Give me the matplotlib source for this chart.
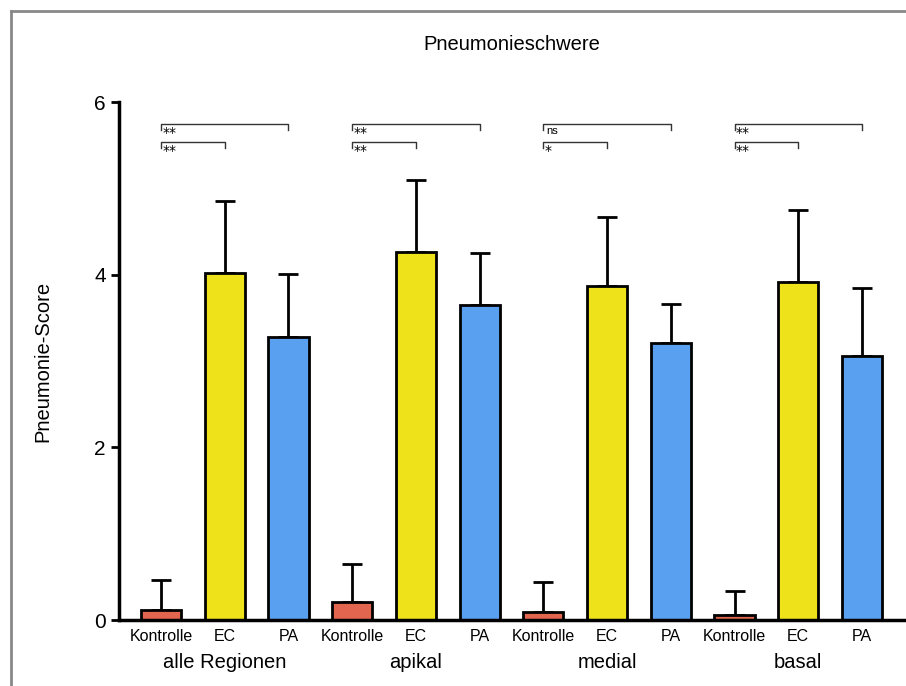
import matplotlib.pyplot as plt
from matplotlib.lines import Line2D

plt.rcParams['font.family'] = ['Liberation Sans', 'DejaVu Sans']

# data
regions = ["alle Regionen", "apikal", "medial", "basal"]
groups = ["Kontrolle", "EC", "PA"]
means = [
    [0.12, 4.02, 3.28],
    [0.21, 4.26, 3.65],
    [0.09, 3.87, 3.21],
    [0.06, 3.91, 3.06],
]
errs = [
    [0.34, 0.83, 0.73],
    [0.44, 0.84, 0.60],
    [0.35, 0.80, 0.45],
    [0.28, 0.84, 0.79],
]
# significance: (vs PA, vs EC) for each region
sig_top = ["**", "**", "ns", "**"]
sig_low = ["**", "**", "*", "**"]
colors = ["#E2664F", "#EEE21A", "#5AA0F0"]

fig = plt.figure(figsize=(9.06, 6.86), dpi=100)
ax = fig.add_axes([0.1313, 0.0962, 0.8687, 0.7551])

pos = 0
for r, region in enumerate(regions):
    xs = [pos + i for i in range(3)]
    ax.bar(xs, means[r], width=0.63, color=colors, edgecolor="black",
           linewidth=2, zorder=2)
    ax.errorbar(xs, means[r], yerr=[[0, 0, 0], errs[r]], fmt="none",
                ecolor="black", elinewidth=2, capsize=7, capthick=2, zorder=1)
    for i, g in enumerate(groups):
        ax.text(xs[i], -0.1, g, ha="center", va="top", fontsize=11.5)
    ax.text(xs[1], -0.38, region, ha="center", va="top", fontsize=14.5)

    # brackets
    x0 = xs[0]
    for x1, yb, s in [(xs[2], 5.745, sig_top[r]), (xs[1], 5.537, sig_low[r])]:
        ax.plot([x0, x0, x1, x1], [yb - 0.07, yb, yb, yb - 0.07],
                color="#333333", lw=1, clip_on=False)
        if "*" in s:
            ax.text(x0 + 0.02, yb - 0.025, s, ha="left", va="top",
                    fontsize=10, family="DejaVu Sans")
        else:
            ax.text(x0 + 0.04, yb - 0.02, s, ha="left", va="top", fontsize=8)
    pos += 3

ax.set_xlim(-0.66, 11.69)
ax.set_ylim(0, 6)
ax.set_yticks([0, 2, 4, 6])
ax.set_xticks([])
ax.tick_params(axis="y", labelsize=15, width=2, length=6)
for s in ["top", "right"]:
    ax.spines[s].set_visible(False)
ax.spines["left"].set_linewidth(2.5)
ax.spines["bottom"].set_linewidth(2.5)
ax.set_ylabel("Pneumonie-Score", fontsize=14.5, labelpad=30)

fig.text(0.565, 0.935, "Pneumonieschwere", ha="center", va="center", fontsize=14.5)

# outer frame
fig.add_artist(Line2D([10.5 / 906, 10.5 / 906], [0, 1 - 10.5 / 686],
                      transform=fig.transFigure, color="#888888", lw=2))
fig.add_artist(Line2D([10.5 / 906, 1], [1 - 10.5 / 686, 1 - 10.5 / 686],
                      transform=fig.transFigure, color="#888888", lw=2))

fig.savefig("out.png", dpi=100)
